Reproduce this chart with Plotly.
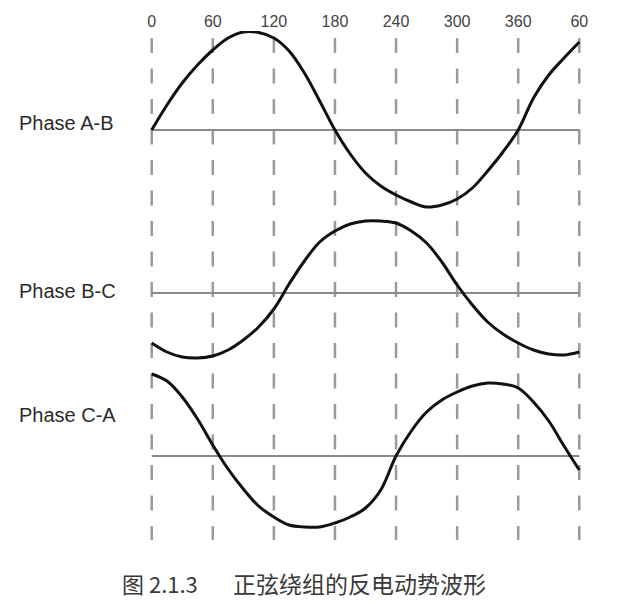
import plotly.graph_objects as go

# ---- data ----
degrees = [0, 15, 30, 45, 60, 75, 90, 105, 120, 135, 150, 165, 180, 195, 210,
           225, 240, 255, 270, 285, 300, 315, 330, 345, 360, 375, 390, 405, 420]
tick_vals = [0, 60, 120, 180, 240, 300, 360, 420]
tick_text = ["0", "60", "120", "180", "240", "300", "360", "60"]

phase_ab = [0, 0.25, 0.47, 0.65, 0.80, 0.92, 0.98, 0.975, 0.92, 0.79, 0.57, 0.29, 0,
            -0.24, -0.43, -0.56, -0.65, -0.72, -0.77, -0.75, -0.69, -0.58, -0.41,
            -0.22, 0, 0.32, 0.55, 0.72, 0.88]
phase_bc = [-0.50, -0.59, -0.64, -0.65, -0.63, -0.57, -0.47, -0.34, -0.16, 0.09, 0.32,
            0.51, 0.62, 0.69, 0.72, 0.72, 0.70, 0.62, 0.50, 0.31, 0.08, -0.12, -0.29,
            -0.41, -0.50, -0.57, -0.61, -0.62, -0.59]
phase_ca = [0.82, 0.75, 0.59, 0.37, 0.11, -0.13, -0.33, -0.50, -0.61, -0.69, -0.71,
            -0.71, -0.67, -0.61, -0.52, -0.34, 0, 0.25, 0.44, 0.56, 0.64, 0.70, 0.73,
            0.72, 0.68, 0.54, 0.35, 0.10, -0.14]

phase_names = ["Phase A-B", "Phase B-C", "Phase C-A"]
caption_fig = "图 2.1.3"
caption_text = "正弦绕组的反电动势波形"

# ---- layout (reference page pixels; the page body adds an 8px margin) ----
OFF = 8
W, H = 640 - 2 * OFF, 609 - 2 * OFF
TOP = 23
row_base_px = [130, 293, 456]
label_px = [123, 291, 415]
series = [phase_ab, phase_bc, phase_ca]

def ypx(p):
    return -(p - OFF) / 100.0

px_per_deg = (579.3 - 151.7) / 420.0
x_zero = 151.7 - OFF
x0 = -x_zero / px_per_deg
x1 = (W - x_zero) / px_per_deg

FONT = "Liberation Sans, Arial, sans-serif"
CJK = "Noto Sans CJK SC, sans-serif"

fig = go.Figure()

# dashed vertical grid
for d in tick_vals:
    fig.add_trace(go.Scatter(
        x=[d, d], y=[ypx(38), ypx(540)], mode="lines",
        line=dict(color="#9a9a9a", width=2.5, dash="15px,15.5px"),
        hoverinfo="skip", showlegend=False))

# zero lines
for b in row_base_px:
    fig.add_trace(go.Scatter(
        x=[tick_vals[0], tick_vals[-1]], y=[ypx(b), ypx(b)], mode="lines",
        line=dict(color="#8a8a8a", width=2),
        hoverinfo="skip", showlegend=False))

# waveforms
for name, vals, b in zip(phase_names, series, row_base_px):
    fig.add_trace(go.Scatter(
        x=degrees, y=[v + ypx(b) for v in vals], mode="lines", name=name,
        line=dict(color="#111111", width=3, shape="spline", smoothing=1.0),
        showlegend=False))

annotations = []
for name, lp in zip(phase_names, label_px):
    annotations.append(dict(
        x=(17 - OFF) / W, xref="paper", y=ypx(lp), yref="y", text=name,
        showarrow=False, xanchor="left", yanchor="middle",
        font=dict(family=FONT, size=20, color="#2b2b2b")))

annotations.append(dict(
    x=(120 - OFF) / W, xref="paper", y=ypx(583), yref="y", text=caption_fig,
    showarrow=False, xanchor="left", yanchor="middle",
    font=dict(family=CJK, size=22, color="#3a3a3a")))
annotations.append(dict(
    x=(231 - OFF) / W, xref="paper", y=ypx(583), yref="y", text=caption_text,
    showarrow=False, xanchor="left", yanchor="middle",
    font=dict(family=CJK, size=23, color="#3a3a3a")))

fig.update_layout(
    width=W, height=H,
    margin=dict(l=0, r=0, t=TOP, b=0, pad=0),
    paper_bgcolor="white", plot_bgcolor="white",
    xaxis=dict(range=[x0, x1], side="top", tickvals=tick_vals, ticktext=tick_text,
               showgrid=False, zeroline=False, showline=False, ticks="",
               tickfont=dict(family=FONT, size=16, color="#444444"), fixedrange=True),
    yaxis=dict(range=[ypx(H + OFF), ypx(TOP + OFF)], visible=False, fixedrange=True),
    annotations=annotations,
)

fig.write_html("out.html")
